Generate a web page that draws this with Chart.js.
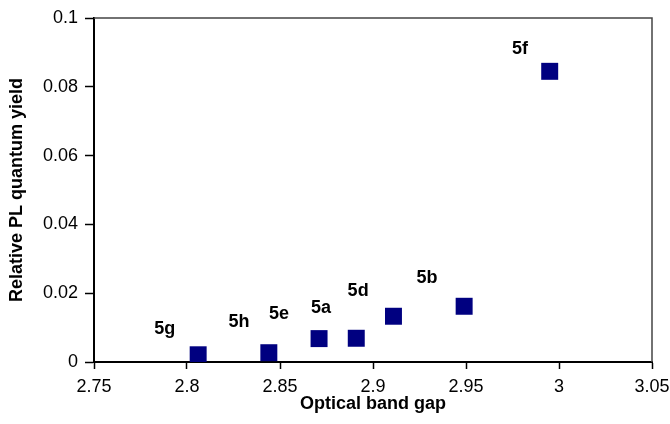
<!DOCTYPE html>
<html>
<head>
<meta charset="utf-8">
<title>PL quantum yield vs optical band gap</title>
<script src="https://cdn.jsdelivr.net/npm/chart.js@4/dist/chart.umd.min.js"></script>
<style>
  html,body{margin:0;padding:0;background:#fff;}
  #c{display:block;}
</style>
</head>
<body>
<canvas id="c" width="670" height="424"></canvas>
<script>
// compound band gaps (x) and relative PL quantum yields (y)
const bandGap = [2.806, 2.844, 2.871, 2.891, 2.911, 2.949, 2.995];
const plYield = [0.0021, 0.0027, 0.0068, 0.0069, 0.0133, 0.0162, 0.0845];

// compound labels and where each one sits (data coords)
const labelText = ['5g', '5h', '5e', '5a', '5d', '5b', '5f'];
const labelX    = [2.788, 2.828, 2.8495, 2.872, 2.892, 2.929, 2.979];
const labelY    = [0.0097, 0.0116, 0.0140, 0.0157, 0.0206, 0.0243, 0.0909];

const xTicks = [2.75, 2.8, 2.85, 2.9, 2.95, 3, 3.05];
const yTicks = [0, 0.02, 0.04, 0.06, 0.08, 0.1];

const FONT = 'Arial, "Liberation Sans", sans-serif';
const NAVY = '#000080';

// top/right frame lines (thin grey, like the original plot box)
const frame = {
  id: 'frame',
  afterDatasetsDraw(chart){
    const {ctx, chartArea:a} = chart;
    ctx.save();
    ctx.strokeStyle = '#444';
    ctx.lineWidth = 1.5;
    ctx.beginPath();
    ctx.moveTo(a.left, a.top); ctx.lineTo(a.right, a.top); ctx.lineTo(a.right, a.bottom);
    ctx.stroke();
    ctx.restore();
  }
};

// compound names, placed through the scales
const pointLabels = {
  id: 'pointLabels',
  afterDatasetsDraw(chart){
    const {ctx, scales:{x, y}} = chart;
    ctx.save();
    ctx.font = 'bold 18px ' + FONT;
    ctx.fillStyle = '#000';
    ctx.textAlign = 'center';
    ctx.textBaseline = 'middle';
    labelText.forEach((t, i) => ctx.fillText(t, x.getPixelForValue(labelX[i]), y.getPixelForValue(labelY[i])));
    ctx.restore();
  }
};

new Chart(document.getElementById('c'), {
  type: 'scatter',
  data: {
    datasets: [{
      label: 'PL yield',
      data: bandGap.map((v, i) => ({x: v, y: plYield[i]})),
      pointStyle: 'rect',
      pointRadius: 12,
      pointHoverRadius: 12,
      backgroundColor: NAVY,
      borderColor: NAVY,
      borderWidth: 0
    }]
  },
  options: {
    responsive: false,
    animation: false,
    layout: {padding: {left: 0, top: 18, right: 18, bottom: 0}},
    plugins: {legend: {display: false}, tooltip: {enabled: false}},
    scales: {
      x: {
        type: 'linear',
        min: 2.75, max: 3.05,
        afterBuildTicks: s => { s.ticks = xTicks.map(v => ({value: v})); },
        afterFit: s => { s.height = 62; s.paddingLeft = 0; s.paddingRight = 0; },
        grid: {drawOnChartArea: false, drawTicks: true, tickLength: 7, tickColor: '#000', tickWidth: 1.5},
        border: {display: true, color: '#000', width: 2},
        ticks: {color: '#000', font: {family: FONT, size: 18}, padding: 7, maxRotation: 0, callback: v => String(v)},
        title: {display: true, text: 'Optical band gap', color: '#000', font: {family: FONT, size: 18, weight: 'bold'}, padding: {top: 0, bottom: 9}}
      },
      y: {
        min: 0, max: 0.1,
        afterBuildTicks: s => { s.ticks = yTicks.map(v => ({value: v})); },
        afterFit: s => { s.width = 94; s.paddingTop = 0; s.paddingBottom = 0; },
        grid: {drawOnChartArea: false, drawTicks: true, tickLength: 9, tickColor: '#000', tickWidth: 1.5},
        border: {display: true, color: '#000', width: 2},
        ticks: {color: '#000', font: {family: FONT, size: 18}, padding: 7, callback: v => String(v)},
        title: {display: true, text: 'Relative PL quantum yield', color: '#000', font: {family: FONT, size: 18, weight: 'bold'}, padding: {top: 6, bottom: 0}}
      }
    }
  },
  plugins: [frame, pointLabels]
});
</script>
</body>
</html>
